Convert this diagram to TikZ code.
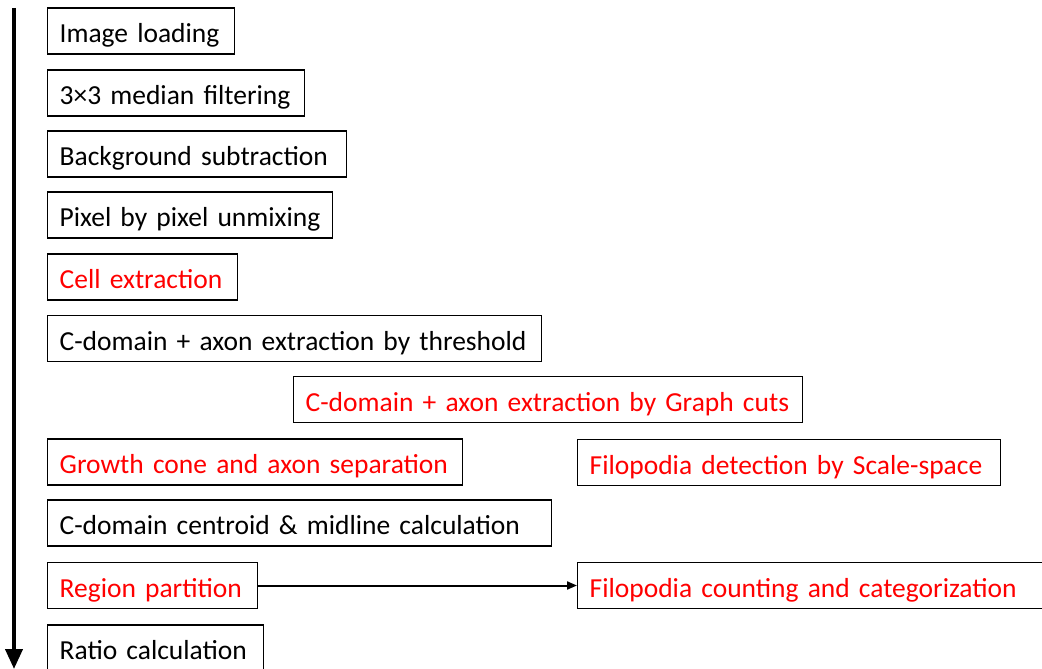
\documentclass[tikz,border=0pt]{standalone}
\usepackage{fontspec}
\setmainfont{Carlito}
\usetikzlibrary{arrows.meta}
\definecolor{stepred}{RGB}{255,0,0}
\tikzset{
  stepbox/.style={draw=black, line width=1.3pt, anchor=west, minimum height=46pt,
    inner xsep=12pt, inner ysep=0pt, text height=23pt, text depth=0pt,
    align=left, font=\fontsize{27.5}{30}\selectfont},
  redtext/.style={text=stepred},
  flow/.style={line width=4pt, -{Triangle[length=20pt,width=17pt]}},
  link/.style={line width=2pt, -{Triangle[length=10pt,width=8pt]}}
}
\begin{document}
\begin{tikzpicture}[x=1pt,y=-1pt]
\useasboundingbox (0,0) rectangle (1042,669);
\fill[white] (0,0) rectangle (1042,669);

\coordinate (top) at (14,8);
\coordinate (bottom) at (14,669);
\draw[flow] (top) -- (bottom);

\node[stepbox, text width=163pt] (load) at (47,31) {Image loading};
\node[stepbox, text width=233pt] (median) at (47,93) {3×3 median filtering};
\node[stepbox, text width=275pt] (bg) at (47,154) {Background subtraction};
\node[stepbox, text width=261pt] (unmix) at (47,215) {Pixel by pixel unmixing};
\node[stepbox, redtext, text width=166pt] (cell) at (47,277) {Cell extraction};
\node[stepbox, text width=470pt] (thresh) at (47,338.5) {C-domain + axon extraction by threshold};
\node[stepbox, redtext, text width=485pt] (graph) at (293,399.5) {C-domain + axon extraction by Graph cuts};
\node[stepbox, redtext, text width=391pt] (sep) at (47,462) {Growth cone and axon separation};
\node[stepbox, redtext, text width=399pt] (filodet) at (577,462.5) {Filopodia detection by Scale-space};
\node[stepbox, text width=480pt] (centroid) at (47,523) {C-domain centroid \& midline calculation};
\node[stepbox, redtext, text width=186pt] (region) at (47,585.5) {Region partition};
\node[stepbox, redtext, text width=443pt] (count) at (577,585.5) {Filopodia counting and categorization};
\node[stepbox, text width=192pt] (ratio) at (47,648) {Ratio calculation};

\draw[link] (region.east) -- (count.west);
\end{tikzpicture}
\end{document}
